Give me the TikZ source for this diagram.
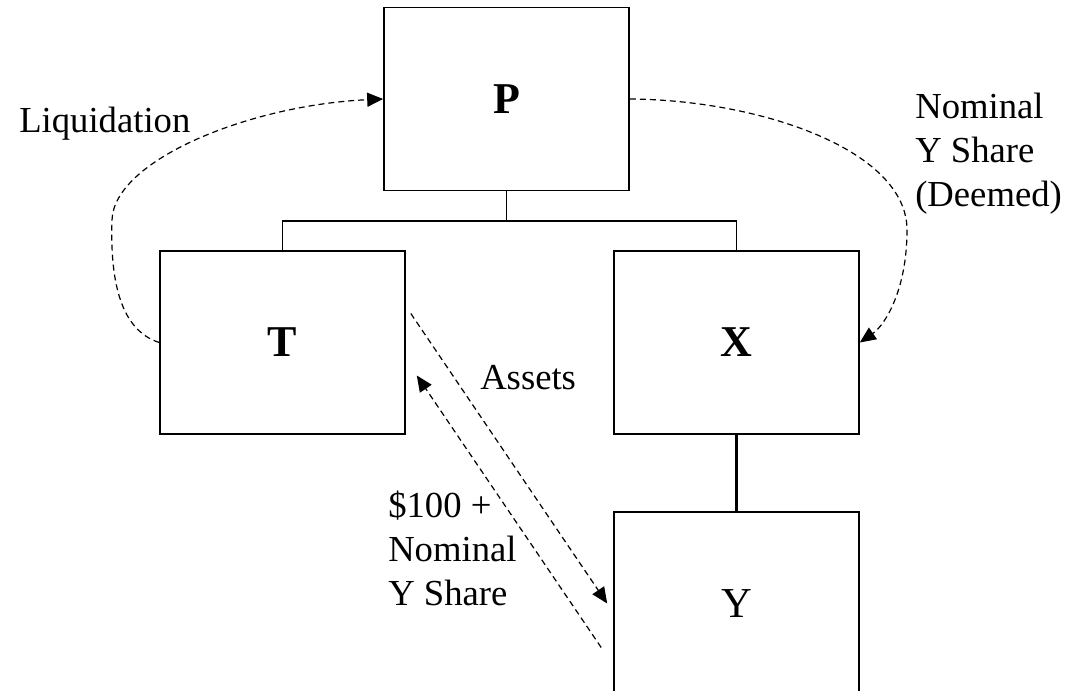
\documentclass[tikz,border=0pt]{standalone}
\usepackage{fontspec}
\setmainfont{Liberation Serif}
\usetikzlibrary{arrows.meta,positioning,calc}

\begin{document}
\begin{tikzpicture}[x=0.75pt,y=-0.75pt,
  entity/.style={draw, line width=1.2pt, inner sep=0pt, minimum width=183.75pt, minimum height=137.25pt, font=\fontsize{33}{40}\selectfont\bfseries},
  lbl/.style={inner sep=0pt, align=left, font=\fontsize{27.5}{33}\selectfont},
  flow/.style={line width=0.9pt, dash pattern=on 4.5pt off 3pt, -{Triangle[length=12pt,width=10.5pt]}}]
\useasboundingbox (0,0) rectangle (1066,691);
% companies
\node[entity] (P) at (506.5,99) {P};
\node[entity] (T) at (282.5,342.5) {T};
\node[entity] (X) at (736.5,342.5) {X};
\node[entity, font=\fontsize{32}{40}\selectfont] (Y) at (736.5,603.5) {Y};
% ownership
\coordinate (split) at (506.5,221);
\draw[line width=1.2pt] (P.south) -- (split);
\draw[line width=1.2pt] (T.north) |- (split) -| (X.north);
\draw[line width=1.8pt] (X.south) -- (Y.north);
% transfers
\draw[flow] (T.west) .. controls (120,330) and (110,280) .. (112,220) .. controls (114,160) and (250,105) .. (P.west);
\draw[flow] (P.east) .. controls (760,100) and (907,150) .. (907,230) .. controls (907,290) and (885,325) .. (X.east);
\draw[flow] ([shift={(5,-29)}]T.east) -- ([shift={(-6,0)}]Y.west);
\draw[flow] ([shift={(-12,44)}]Y.west) -- ([shift={(11,33)}]T.east);
% labels
\node[lbl, anchor=base west] (liq) at (19,133) {Liquidation};
\node[lbl, anchor=base west] (nom) at (915,207) {Nominal\\Y Share\\(Deemed)};
\node[lbl, anchor=base west] (ast) at (480,389) {Assets};
\node[lbl, anchor=base west] (cash) at (388,605) {\$100 +\\Nominal\\Y Share};
\end{tikzpicture}
\end{document}
